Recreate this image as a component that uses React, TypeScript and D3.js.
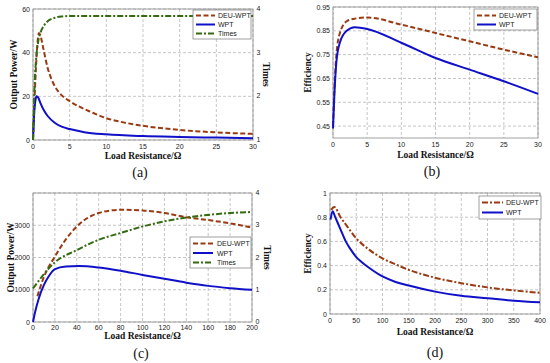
import React from "react";
import * as d3 from "d3";

// ---------- Panel (a) ----------
const aDeuR = [0, 0.2, 0.4, 0.6, 0.8, 1.0, 1.4, 2, 2.5, 3, 3.5, 4, 5, 6, 8, 10, 12, 15, 20, 25, 30];
const aDeuP = [0, 18, 33, 44, 49, 48, 42, 33, 28, 24.5, 22, 20.2, 17.8, 15.8, 12.7, 10, 8.3, 6.5, 4.6, 3.5, 2.8];
const aWptR = [0, 0.1, 0.2, 0.35, 0.5, 0.7, 1, 1.5, 2, 3, 4, 5, 7, 10, 15, 20, 25, 30];
const aWptP = [0, 8, 14, 18.5, 20, 19.5, 17, 13.5, 11, 7.8, 6, 5, 3.6, 2.6, 1.8, 1.4, 1.1, 0.8];
const aTimesR = [0, 0.1, 0.2, 0.4, 0.7, 1.0, 1.5, 2, 3, 4, 5, 10, 20, 30];
const aTimes = [1.0, 1.6, 2.2, 2.8, 3.25, 3.45, 3.62, 3.72, 3.8, 3.83, 3.84, 3.84, 3.84, 3.84];
const aXTicks = [0, 5, 10, 15, 20, 25, 30];
const aYTicks = [0, 20, 40, 60];
const aY2Ticks = [1, 2, 3, 4];

// ---------- Panel (b) ----------
const bDeuR = [0, 0.2, 0.5, 1, 2, 3, 5, 10, 15, 20, 25, 30];
const bDeuE = [0.45, 0.6, 0.75, 0.84, 0.89, 0.9, 0.906, 0.876, 0.841, 0.806, 0.771, 0.739];
const bWptR = [0, 0.2, 0.5, 1, 2, 3.2, 5, 10, 15, 20, 25, 30];
const bWptE = [0.44, 0.58, 0.72, 0.8, 0.85, 0.865, 0.858, 0.8, 0.736, 0.687, 0.638, 0.585];
const bXTicks = [0, 5, 10, 15, 20, 25, 30];
const bYTicks = [0.45, 0.55, 0.65, 0.75, 0.85, 0.95];

// ---------- Panel (c) ----------
const cDeuR = [4, 10, 20, 30, 40, 60, 80, 100, 120, 140, 160, 180, 200];
const cDeuP = [800, 1400, 2030, 2560, 2960, 3380, 3480, 3460, 3380, 3250, 3160, 3060, 2930];
const cWptR = [0, 2, 5, 10, 15, 20, 30, 42, 60, 80, 100, 120, 140, 160, 180, 200];
const cWptP = [0, 320, 700, 1150, 1450, 1640, 1720, 1735, 1690, 1590, 1460, 1340, 1220, 1120, 1050, 1000];
const cTimesR = [0, 20, 40, 60, 80, 100, 120, 140, 160, 180, 200];
const cTimes = [1.04, 1.85, 2.23, 2.55, 2.76, 2.96, 3.12, 3.24, 3.32, 3.38, 3.41];
const cXTicks = [0, 20, 40, 60, 80, 100, 120, 140, 160, 180, 200];
const cYTicks = [0, 1000, 2000, 3000, 4000];
const cYLabels = ["0", "1000", "2000", "3000", ""];
const cY2Ticks = [0, 1, 2, 3, 4];

// ---------- Panel (d) ----------
const dDeuR = [2, 8, 20, 30, 40, 50, 75, 100, 125, 150, 200, 250, 300, 350, 400];
const dDeuE = [0.86, 0.885, 0.8, 0.74, 0.68, 0.625, 0.53, 0.46, 0.41, 0.365, 0.3, 0.255, 0.22, 0.195, 0.175];
const dWptR = [1, 5, 10, 20, 30, 40, 50, 60, 75, 100, 125, 150, 200, 250, 300, 350, 400];
const dWptE = [0.78, 0.85, 0.8, 0.7, 0.6, 0.53, 0.47, 0.43, 0.38, 0.31, 0.265, 0.235, 0.185, 0.15, 0.13, 0.11, 0.097];
const dXTicks = [0, 50, 100, 150, 200, 250, 300, 350, 400];
const dYTicks = [0, 0.2, 0.4, 0.6, 0.8, 1];

const RED = "#9a3a12";
const BLUE = "#1010c8";
const GREEN = "#336b10";
const DASH = "5,2.5";
const DASHDOT = "6,2,2,2";

type Series = { x: number[]; y: number[]; color: string; dash?: string; right?: boolean };
type Legend = { x: number; y: number; w: number; h: number; items: { label: string; color: string; dash?: string; y: number }[]; lineX0: number; lineX1: number; textX: number };

interface PanelProps {
  x0: number; x1: number; y0: number; y1: number;
  xDomain: [number, number]; yDomain: [number, number]; y2Domain?: [number, number];
  xTicks: number[]; yTicks: number[]; yLabels?: string[]; y2Ticks?: number[];
  series: Series[];
  yLabel: string; yLabelX: number; y2Label?: string; y2LabelX?: number;
  tickOff: number; xLabelY: number; tag: string; tagX: number; tagY: number;
  legend: Legend;
}

const fmt = (v: number) => String(v);
const SANS = "Liberation Sans, Arial, sans-serif";
const SERIF = "Liberation Serif, Times New Roman, serif";

function Panel(p: PanelProps) {
  const xs = d3.scaleLinear().domain(p.xDomain).range([p.x0, p.x1]);
  const ys = d3.scaleLinear().domain(p.yDomain).range([p.y1, p.y0]);
  const y2s = p.y2Domain ? d3.scaleLinear().domain(p.y2Domain).range([p.y1, p.y0]) : null;
  const cx = (p.x0 + p.x1) / 2;
  const cy = (p.y0 + p.y1) / 2;
  return (
    <g>
      {p.xTicks.map((t) => (
        <line key={"gx" + t} x1={xs(t)} x2={xs(t)} y1={p.y0} y2={p.y1} stroke="#b8b8b8" strokeWidth={0.8} strokeDasharray="3,2" />
      ))}
      {p.yTicks.map((t) => (
        <line key={"gy" + t} x1={p.x0} x2={p.x1} y1={ys(t)} y2={ys(t)} stroke="#b8b8b8" strokeWidth={0.8} strokeDasharray="3,2" />
      ))}
      <rect x={p.x0} y={p.y0} width={p.x1 - p.x0} height={p.y1 - p.y0} fill="none" stroke="#8a8a8a" strokeWidth={0.8} />
      <g>
        {p.series.map((s, i) => {
          const yy = s.right && y2s ? y2s : ys;
          const pts: [number, number][] = s.x.map((v, k) => [xs(v), yy(s.y[k])]);
          const path = d3.line().curve(d3.curveMonotoneX)(pts) || "";
          return <path key={i} d={path} fill="none" stroke={s.color} strokeWidth={2} strokeDasharray={s.dash} />;
        })}
      </g>
      {p.xTicks.map((t) => (
        <text key={"tx" + t} x={xs(t)} y={p.y1 + p.tickOff} fontSize={7} fontFamily={SANS} textAnchor="middle" fill="#222">
          {fmt(t)}
        </text>
      ))}
      {p.yTicks.map((t, i) => (
        <text key={"ty" + t} x={p.x0 - 3} y={ys(t) + 2.5} fontSize={7} fontFamily={SANS} textAnchor="end" fill="#222">
          {p.yLabels ? p.yLabels[i] : fmt(t)}
        </text>
      ))}
      {y2s && p.y2Ticks && p.y2Ticks.map((t) => (
        <text key={"ty2" + t} x={p.x1 + 3.5} y={y2s(t) + 2} fontSize={7} fontFamily={SANS} textAnchor="start" fill="#222">
          {fmt(t)}
        </text>
      ))}
      <text x={cx} y={p.xLabelY} fontSize={9.5} fontWeight="bold" fontFamily={SERIF} textAnchor="middle" fill="#111">
        Load Resistance/Ω
      </text>
      <text transform={`translate(${p.yLabelX},${cy}) rotate(-90)`} fontSize={9.5} fontWeight="bold" fontFamily={SERIF} textAnchor="middle" fill="#111">
        {p.yLabel}
      </text>
      {p.y2Label && (
        <text transform={`translate(${p.y2LabelX},${cy}) rotate(90)`} fontSize={9.5} fontWeight="bold" fontFamily={SERIF} textAnchor="middle" fill="#111">
          {p.y2Label}
        </text>
      )}
      <text x={p.tagX} y={p.tagY} fontSize={14} fontFamily={SERIF} textAnchor="middle" fill="#111">
        {p.tag}
      </text>
      <rect x={p.legend.x} y={p.legend.y} width={p.legend.w} height={p.legend.h} fill="#fff" stroke="#777" strokeWidth={0.7} />
      {p.legend.items.map((it) => (
        <g key={it.label}>
          <line x1={p.legend.lineX0} x2={p.legend.lineX1} y1={it.y} y2={it.y} stroke={it.color} strokeWidth={2} strokeDasharray={it.dash} />
          <text x={p.legend.textX} y={it.y + 2.5} fontSize={7} fontFamily={SANS} fill="#222">
            {it.label}
          </text>
        </g>
      ))}
    </g>
  );
}

export default function App() {
  return (
    <svg width={550} height={363} style={{ position: "absolute", left: 0, top: 0, background: "#fff" }}>
      <rect width={550} height={363} fill="#fff" />
      <Panel
        x0={33} x1={253} y0={9} y1={140}
        xDomain={[0, 30]} yDomain={[0, 60]} y2Domain={[1, 4]}
        xTicks={aXTicks} yTicks={aYTicks} y2Ticks={aY2Ticks}
        series={[
          { x: aDeuR, y: aDeuP, color: RED, dash: DASH },
          { x: aWptR, y: aWptP, color: BLUE },
          { x: aTimesR, y: aTimes, color: GREEN, dash: DASHDOT, right: true },
        ]}
        yLabel="Output Power/W" yLabelX={17} y2Label="Times" y2LabelX={263}
        tickOff={8.5} xLabelY={159} tag="(a)" tagX={140} tagY={177}
        legend={{ x: 193, y: 10, w: 58, h: 29, lineX0: 196, lineX1: 215, textX: 218,
          items: [
            { label: "DEU-WPT", color: RED, dash: DASH, y: 15.5 },
            { label: "WPT", color: BLUE, y: 24.5 },
            { label: "Times", color: GREEN, dash: DASHDOT, y: 33.5 },
          ] }}
      />
      <Panel
        x0={333} x1={538} y0={7} y1={138}
        xDomain={[0, 30]} yDomain={[0.4, 0.95]}
        xTicks={bXTicks} yTicks={bYTicks}
        series={[
          { x: bDeuR, y: bDeuE, color: RED, dash: DASH },
          { x: bWptR, y: bWptE, color: BLUE },
        ]}
        yLabel="Efficiency" yLabelX={311}
        tickOff={8.5} xLabelY={158} tag="(b)" tagX={432} tagY={176}
        legend={{ x: 474, y: 9, w: 63, h: 21, lineX0: 477, lineX1: 496, textX: 499,
          items: [
            { label: "DEU-WPT", color: RED, dash: DASH, y: 15.5 },
            { label: "WPT", color: BLUE, y: 24.5 },
          ] }}
      />
      <Panel
        x0={33} x1={252} y0={193} y1={322}
        xDomain={[0, 200]} yDomain={[0, 4000]} y2Domain={[0, 4]}
        xTicks={cXTicks} yTicks={cYTicks} yLabels={cYLabels} y2Ticks={cY2Ticks}
        series={[
          { x: cDeuR, y: cDeuP, color: RED, dash: DASH },
          { x: cWptR, y: cWptP, color: BLUE },
          { x: cTimesR, y: cTimes, color: GREEN, dash: DASHDOT, right: true },
        ]}
        yLabel="Output Power/W" yLabelX={14} y2Label="Times" y2LabelX={264}
        tickOff={7.8} xLabelY={338.5} tag="(c)" tagX={141} tagY={358}
        legend={{ x: 190, y: 237, w: 61, h: 31, lineX0: 193, lineX1: 213, textX: 217,
          items: [
            { label: "DEU-WPT", color: RED, dash: DASH, y: 243.5 },
            { label: "WPT", color: BLUE, y: 253 },
            { label: "Times", color: GREEN, dash: DASHDOT, y: 262.5 },
          ] }}
      />
      <Panel
        x0={330} x1={540} y0={193} y1={314}
        xDomain={[0, 400]} yDomain={[0, 1]}
        xTicks={dXTicks} yTicks={dYTicks}
        series={[
          { x: dDeuR, y: dDeuE, color: RED, dash: DASHDOT },
          { x: dWptR, y: dWptE, color: BLUE },
        ]}
        yLabel="Efficiency" yLabelX={311}
        tickOff={8.5} xLabelY={334.5} tag="(d)" tagX={435} tagY={357}
        legend={{ x: 479, y: 196, w: 62, h: 23, lineX0: 482, lineX1: 503, textX: 506,
          items: [
            { label: "DEU-WPT", color: RED, dash: DASHDOT, y: 202.5 },
            { label: "WPT", color: BLUE, y: 212.5 },
          ] }}
      />
    </svg>
  );
}
